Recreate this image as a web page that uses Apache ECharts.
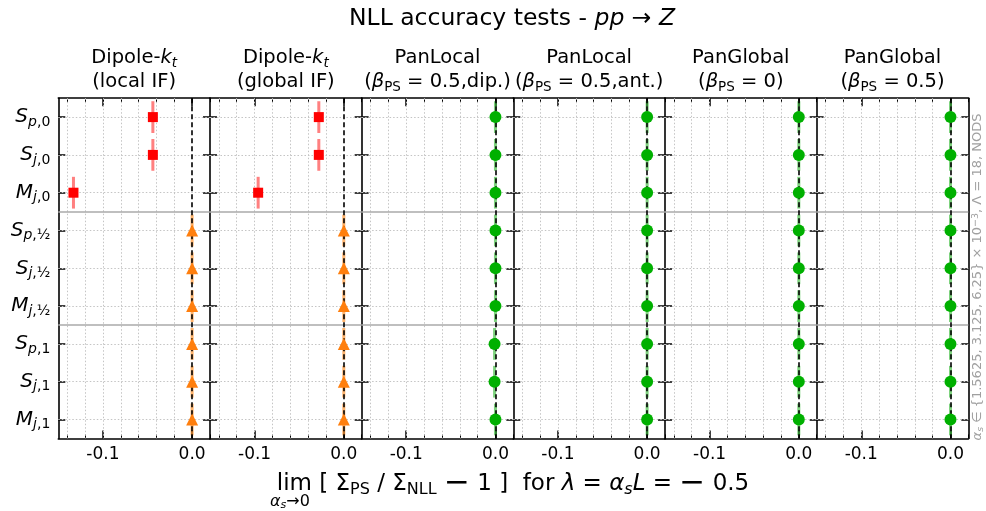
<!DOCTYPE html>
<html>
<head>
<meta charset="utf-8">
<script src="https://cdn.jsdelivr.net/npm/echarts@6/dist/echarts.min.js"></script>
<style>
  html, body { margin: 0; padding: 0; background: #fff; }
  #chart { width: 986px; height: 511px; }
</style>
</head>
<body>
<div id="chart"></div>
<script>
const FONT = 'DejaVu Sans';

// Observables, one per row (letter, subscript variable, subscript index)
const rowLetters = ['S', 'S', 'M', 'S', 'S', 'M', 'S', 'S', 'M'];
const rowSubVar  = ['p', 'j', 'j', 'p', 'j', 'j', 'p', 'j', 'j'];
const rowSubIdx  = ['0', '0', '0', '½', '½', '½', '1', '1', '1'];

// Panel headers (rich text)
const panelTitles = [
  'Dipole-{it|k}{its|t}\n(local IF)',
  'Dipole-{it|k}{its|t}\n(global IF)',
  'PanLocal\n({it|β}{s|PS} = 0.5,dip.)',
  'PanLocal\n({it|β}{s|PS} = 0.5,ant.)',
  'PanGlobal\n({it|β}{s|PS} = 0)',
  'PanGlobal\n({it|β}{s|PS} = 0.5)'
];

// x axis ticks
const xMajorTicks = [-0.1, 0.0];
const xMinorTicks = [-0.14, -0.12, -0.10, -0.08, -0.06, -0.04, -0.02, 0.00, 0.02];
const xMin = -0.15, xMax = 0.02;

// Extrapolated deviation lim [Σ_PS/Σ_NLL − 1], row by row, per shower
const dipoleLocalIF  = [-0.044, -0.044, -0.133, 0.000, 0.000, 0.000, 0.000, 0.000, 0.000];
const dipoleGlobalIF = [-0.028, -0.028, -0.096, 0.000, 0.000, 0.000, 0.000, 0.000, 0.000];
const panLocalDip    = [0.000, 0.000, 0.000, 0.000, 0.000, 0.000, -0.001, -0.001, 0.000];
const panLocalAnt    = [0.000, 0.000, 0.000, 0.000, 0.000, 0.000, 0.000, 0.000, 0.000];
const panGlobal0     = [0.000, 0.000, 0.000, 0.000, 0.000, 0.000, 0.000, 0.000, 0.000];
const panGlobal05    = [0.000, 0.000, 0.000, 0.000, 0.000, 0.000, 0.000, 0.000, 0.000];

// Outcome per row: 'fail' = red square, 'partial' = orange triangle, 'pass' = green circle
const dipoleStatus = ['fail', 'fail', 'fail', 'partial', 'partial', 'partial', 'partial', 'partial', 'partial'];
const panStatus    = ['pass', 'pass', 'pass', 'pass', 'pass', 'pass', 'pass', 'pass', 'pass'];

const panels = [
  { values: dipoleLocalIF,  status: dipoleStatus },
  { values: dipoleGlobalIF, status: dipoleStatus },
  { values: panLocalDip,    status: panStatus },
  { values: panLocalAnt,    status: panStatus },
  { values: panGlobal0,     status: panStatus },
  { values: panGlobal05,    status: panStatus }
];

const markerStyle = {
  fail:    { symbol: 'rect',     size: 10, color: '#ff0000', bar: 'rgba(255,60,60,0.65)' },
  partial: { symbol: 'triangle', size: 12, color: '#ff7f0e', bar: 'rgba(255,140,30,0.65)' },
  pass:    { symbol: 'circle',   size: 12, color: '#00b000', bar: 'rgba(40,180,40,0.6)' }
};

const rowTicks = rowLetters.map((_, i) => i);
const barHalf = 0.42;

// layout
const LEFT0 = 58.3, PW = 151.67, TOP = 98.2, PH = 340.2;

const grids = [], xAxes = [], yAxes = [], series = [], graphics = [];

const axisLineStyle = { color: '#000', width: 1.6 };

panels.forEach((p, k) => {
  grids.push({ left: LEFT0 + k * PW, top: TOP, width: PW, height: PH, containLabel: false });
  const base = { gridIndex: k, type: 'value', min: xMin, max: xMax, splitLine: { show: false }, minorTick: { show: false } };
  // bottom: major ticks + labels
  xAxes.push(Object.assign({}, base, {
    position: 'bottom',
    axisLine: { show: true, onZero: false, lineStyle: axisLineStyle },
    axisTick: { show: true, inside: true, length: 8, customValues: xMajorTicks, lineStyle: { color: '#000', width: 1.5 } },
    axisLabel: { show: true, customValues: xMajorTicks, margin: 8, color: '#000', fontFamily: FONT, fontSize: 17,
      formatter: v => (Math.abs(v) < 1e-9 ? 0 : v).toFixed(1) }
  }));
  // bottom: minor ticks
  xAxes.push(Object.assign({}, base, {
    position: 'bottom',
    axisLine: { show: false, onZero: false },
    axisTick: { show: true, inside: true, length: 4, customValues: xMinorTicks, lineStyle: { color: '#000', width: 1 } },
    axisLabel: { show: false }
  }));
  // top: major ticks
  xAxes.push(Object.assign({}, base, {
    position: 'top',
    axisLine: { show: true, onZero: false, lineStyle: axisLineStyle },
    axisTick: { show: true, inside: true, length: 8, customValues: xMajorTicks, lineStyle: { color: '#000', width: 1.5 } },
    axisLabel: { show: false }
  }));
  // top: minor ticks
  xAxes.push(Object.assign({}, base, {
    position: 'top',
    axisLine: { show: false, onZero: false },
    axisTick: { show: true, inside: true, length: 4, customValues: xMinorTicks, lineStyle: { color: '#000', width: 1 } },
    axisLabel: { show: false }
  }));

  const ybase = { gridIndex: k, type: 'value', min: -0.5, max: 8.5, inverse: true, splitLine: { show: false } };
  yAxes.push(Object.assign({}, ybase, {
    position: 'left',
    // shared edge with the previous panel is drawn once, by that panel's right axis
    axisLine: { show: k === 0, onZero: false, lineStyle: axisLineStyle },
    axisTick: { show: true, inside: true, length: 7, customValues: rowTicks, lineStyle: { color: '#000', width: 1.5 } },
    axisLabel: {
      show: k === 0, customValues: rowTicks, margin: 8, align: 'right',
      formatter: v => `{it|${rowLetters[v]}}{si|${rowSubVar[v]}}{sb|,${rowSubIdx[v]}}`,
      rich: {
        it: { fontFamily: FONT, fontStyle: 'italic', fontSize: 20, color: '#000', lineHeight: 24 },
        si: { fontFamily: FONT, fontStyle: 'italic', fontSize: 14, color: '#000', lineHeight: 10, verticalAlign: 'bottom' },
        sb: { fontFamily: FONT, fontSize: 14, color: '#000', lineHeight: 10, verticalAlign: 'bottom' }
      }
    }
  }));
  yAxes.push(Object.assign({}, ybase, {
    position: 'right',
    axisLine: { show: true, onZero: false, lineStyle: axisLineStyle },
    axisTick: { show: true, inside: true, length: 7, customValues: rowTicks, lineStyle: { color: '#000', width: 1.5 } },
    axisLabel: { show: false }
  }));

  const xi = 4 * k, yi = 2 * k;

  // grid, separators
  const gridLines = [];
  xMinorTicks.filter(v => v > xMin && v < xMax - 1e-9 && Math.abs(v) > 1e-9).forEach(v => {
    gridLines.push({ xAxis: v, lineStyle: { color: '#c4c4c4', width: 1, type: [1.5, 2] } });
  });
  rowTicks.forEach(r => {
    gridLines.push({ yAxis: r, lineStyle: { color: '#c4c4c4', width: 1, type: [1.5, 2] } });
  });
  [2.5, 5.5].forEach(r => {
    gridLines.push({ yAxis: r, lineStyle: { color: '#aaaaaa', width: 1.5, type: 'solid' } });
  });
  series.push({
    type: 'line', xAxisIndex: xi, yAxisIndex: yi, data: [[0, 0]], symbol: 'none', silent: true, z: 1,
    lineStyle: { opacity: 0 },
    markLine: { silent: true, symbol: ['none', 'none'], label: { show: false }, animation: false, data: gridLines }
  });

  // spread bars through each point
  series.push({
    type: 'custom', xAxisIndex: xi, yAxisIndex: yi, z: 3, silent: true,
    data: p.values.map((v, i) => [v, i]),
    renderItem: (params, api) => {
      const x = api.value(0), y = api.value(1);
      const a = api.coord([x, y - barHalf]), b = api.coord([x, y + barHalf]);
      const st = markerStyle[p.status[params.dataIndex]];
      return { type: 'line', shape: { x1: a[0], y1: a[1], x2: b[0], y2: b[1] }, style: { stroke: st.bar, lineWidth: 3 } };
    }
  });

  // zero reference line, dashed black, drawn above the bars
  series.push({
    type: 'line', xAxisIndex: xi, yAxisIndex: yi, data: [[0, 0]], symbol: 'none', silent: true, z: 4,
    lineStyle: { opacity: 0 },
    markLine: { silent: true, symbol: ['none', 'none'], label: { show: false }, animation: false,
      data: [{ xAxis: 0, lineStyle: { color: '#000', width: 1.6, type: [5, 3] } }] }
  });

  // markers
  series.push({
    type: 'scatter', xAxisIndex: xi, yAxisIndex: yi, z: 5, silent: true,
    data: p.values.map((v, i) => {
      const st = markerStyle[p.status[i]];
      return { value: [v, i], symbol: st.symbol, symbolSize: st.size, itemStyle: { color: st.color, opacity: 1 } };
    })
  });

  // panel header
  graphics.push({
    type: 'text', x: LEFT0 + (k + 0.5) * PW, y: 70, silent: true,
    style: {
      text: panelTitles[k], align: 'center', verticalAlign: 'middle',
      fontFamily: FONT, fontSize: 19.5, fill: '#000', lineHeight: 24,
      rich: {
        it:  { fontFamily: FONT, fontStyle: 'italic', fontSize: 19.5, fill: '#000', lineHeight: 24 },
        its: { fontFamily: FONT, fontStyle: 'italic', fontSize: 13.5, fill: '#000', lineHeight: 10, verticalAlign: 'bottom' },
        s:   { fontFamily: FONT, fontSize: 13.5, fill: '#000', lineHeight: 10, verticalAlign: 'bottom' }
      }
    }
  });
});

// main title
graphics.push({
  type: 'text', x: 512, y: 19, silent: true,
  style: {
    text: 'NLL accuracy tests - {it|pp} → {it|Z}', align: 'center', verticalAlign: 'middle',
    fontFamily: FONT, fontSize: 23.5, fill: '#000',
    rich: { it: { fontFamily: FONT, fontStyle: 'italic', fontSize: 23.5, fill: '#000' } }
  }
});

// x axis title
graphics.push({
  type: 'text', x: 513, y: 484, silent: true,
  style: {
    text: '{lim|lim} [ Σ{s|PS} / Σ{s|NLL} {m|−} 1 ]  for {it|λ} = {it|α}{its|s}{it|L} = {m|−} 0.5',
    align: 'center', verticalAlign: 'middle',
    fontFamily: FONT, fontSize: 23, fill: '#000', lineHeight: 28,
    rich: {
      lim: { fontFamily: FONT, fontSize: 23, fill: '#000', lineHeight: 28 },
      m:   { fontFamily: FONT, fontSize: 31, fill: '#000', lineHeight: 28 },
      it:  { fontFamily: FONT, fontStyle: 'italic', fontSize: 23, fill: '#000', lineHeight: 28 },
      its: { fontFamily: FONT, fontStyle: 'italic', fontSize: 16, fill: '#000', lineHeight: 12, verticalAlign: 'bottom' },
      s:   { fontFamily: FONT, fontSize: 16, fill: '#000', lineHeight: 12, verticalAlign: 'bottom' }
    }
  }
});
graphics.push({
  type: 'text', x: 290, y: 502, silent: true,
  style: {
    text: '{it|α}{its|s}→0', align: 'center', verticalAlign: 'middle',
    fontFamily: FONT, fontSize: 16, fill: '#000', lineHeight: 18,
    rich: {
      it:  { fontFamily: FONT, fontStyle: 'italic', fontSize: 16, fill: '#000', lineHeight: 18 },
      its: { fontFamily: FONT, fontStyle: 'italic', fontSize: 11, fill: '#000', lineHeight: 8, verticalAlign: 'bottom' }
    }
  }
});

// run parameters, vertical at the right edge
graphics.push({
  type: 'text', x: 978, y: 277, rotation: Math.PI / 2, silent: true,
  style: {
    text: '{it|α}{its|s} ∈ {1.5625, 3.125, 6.25} × 10{sup|−3}, Λ = 18, NODS',
    align: 'center', verticalAlign: 'middle',
    fontFamily: FONT, fontSize: 13, fill: '#a0a0a0', lineHeight: 15,
    rich: {
      it:  { fontFamily: FONT, fontStyle: 'italic', fontSize: 13, fill: '#a0a0a0', lineHeight: 15 },
      its: { fontFamily: FONT, fontStyle: 'italic', fontSize: 9.5, fill: '#a0a0a0', lineHeight: 7, verticalAlign: 'bottom' },
      sup: { fontFamily: FONT, fontSize: 9.5, fill: '#a0a0a0', lineHeight: 7, verticalAlign: 'top' }
    }
  }
});

const chart = echarts.init(document.getElementById('chart'), null, { renderer: 'canvas' });
chart.setOption({
  animation: false,
  backgroundColor: '#fff',
  grid: grids,
  xAxis: xAxes,
  yAxis: yAxes,
  series: series,
  graphic: graphics
});
</script>
</body>
</html>
